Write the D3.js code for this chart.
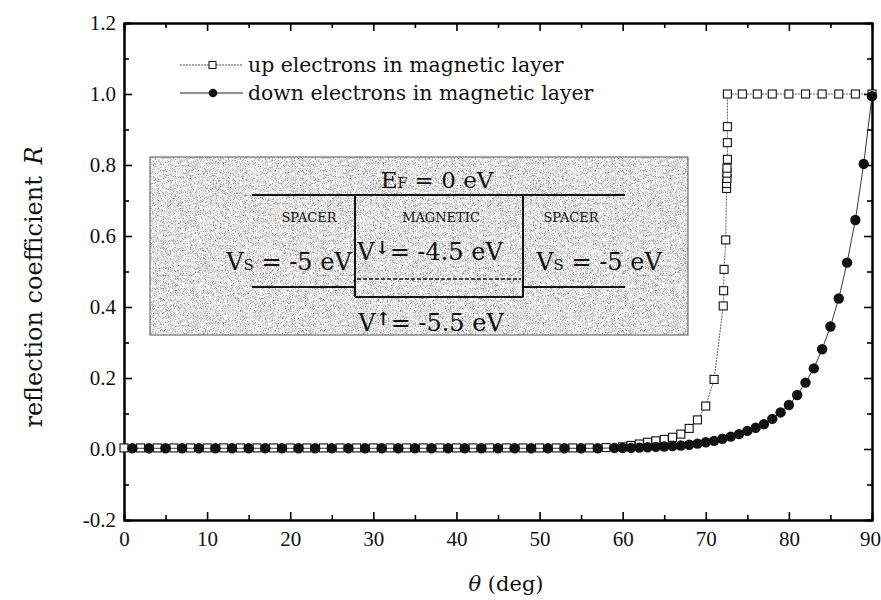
<!DOCTYPE html>
<html>
<head>
<meta charset="utf-8">
<script src="https://cdn.jsdelivr.net/npm/d3@7"></script>
<style>
  body { margin: 0; background: #fff; }
  svg text { fill: #111; }
</style>
</head>
<body>
<div class="view"></div>
<script>
// reflection coefficient vs incidence angle
const upTheta = [0, 2, 4, 6, 8, 10, 12, 14, 16, 18, 20, 22, 24, 26, 28, 30, 32, 34, 36, 38,
  40, 42, 44, 46, 48, 50, 52, 54, 56, 58,
  60, 61, 62, 63, 64, 65, 66, 67, 68, 69, 70, 71,
  72.1, 72.15, 72.2, 72.4, 72.5, 72.5, 72.55, 72.55, 72.55, 72.6, 72.6, 72.6, 72.6,
  74.4, 76.2, 78, 80, 82, 84, 86, 88, 90]
const upR = [0.003, 0.003, 0.003, 0.003, 0.003, 0.003, 0.003, 0.003, 0.003, 0.003,
  0.003, 0.003, 0.003, 0.003, 0.003, 0.003, 0.003, 0.003, 0.003, 0.003,
  0.003, 0.003, 0.003, 0.003, 0.003, 0.003, 0.003, 0.003, 0.003, 0.004,
  0.006, 0.010, 0.014, 0.019, 0.023, 0.027, 0.033, 0.042, 0.058, 0.082, 0.121, 0.196,
  0.403, 0.446, 0.506, 0.589, 0.734, 0.748, 0.762, 0.777, 0.791, 0.816, 0.863, 0.908, 1.0,
  1.0, 1.0, 1.0, 1.0, 1.0, 1.0, 1.0, 1.0, 1.0]

const downTheta = [1, 3, 5, 7, 9, 11, 13, 15, 17, 19, 21, 23, 25, 27, 29, 31, 33, 35, 37, 39,
  41, 43, 45, 47, 49, 51, 53, 55, 57, 59,
  60, 61, 62, 63, 64, 65, 66, 67, 68, 69, 70, 71, 72, 73, 74, 75, 76, 77, 78, 79,
  80, 81, 82, 83, 84, 85, 86, 87, 88, 89, 90]
const downR = [0.002, 0.002, 0.002, 0.002, 0.002, 0.002, 0.002, 0.002, 0.002, 0.002,
  0.002, 0.002, 0.002, 0.002, 0.002, 0.002, 0.002, 0.002, 0.002, 0.002,
  0.002, 0.002, 0.002, 0.002, 0.002, 0.002, 0.002, 0.002, 0.002, 0.003,
  0.003, 0.003, 0.004, 0.005, 0.006, 0.007, 0.008, 0.010, 0.012, 0.015,
  0.019, 0.023, 0.029, 0.035, 0.042, 0.051, 0.060, 0.070, 0.085, 0.103,
  0.124, 0.152, 0.187, 0.227, 0.281, 0.345, 0.424, 0.525, 0.645, 0.803, 0.994]

const xTicks = [0, 10, 20, 30, 40, 50, 60, 70, 80, 90]
const xMinor = [5, 15, 25, 35, 45, 55, 65, 75, 85]
const yTicks = [-0.2, 0.0, 0.2, 0.4, 0.6, 0.8, 1.0, 1.2]
const yMinor = [-0.1, 0.1, 0.3, 0.5, 0.7, 0.9, 1.1]
const seriesNames = ['up electrons in magnetic layer', 'down electrons in magnetic layer']

const w = 881
const h = 600
const padL = 124, padR = 872, padT = 23, padB = 520
const serif = '"DejaVu Serif", serif'
const numFont = '"Liberation Serif", "Times New Roman", serif'

const svg = d3.select('.view')
  .append('svg')
  .attr('width', w)
  .attr('height', h)

const xScale = d3.scaleLinear().domain([0, 90]).range([padL, padR])
const yScale = d3.scaleLinear().domain([-0.2, 1.2]).range([padB, padT])

// grain filter for the inset background
const defs = svg.append('defs')
const grain = defs.append('filter').attr('id', 'grain').attr('x', 0).attr('y', 0).attr('width', 1).attr('height', 1)
grain.append('feTurbulence').attr('type', 'fractalNoise').attr('baseFrequency', 1.6).attr('numOctaves', 1).attr('seed', 4)
grain.append('feColorMatrix').attr('type', 'matrix')
  .attr('values', '2.2 0 0 0 -0.3  2.2 0 0 0 -0.3  2.2 0 0 0 -0.3  0 0 0 0 1')
grain.append('feComposite').attr('in2', 'SourceGraphic').attr('operator', 'in')

// axes (ticks pointing inward, on all four sides)
function styleAxis(g) {
  g.select('.domain').attr('stroke', '#000').attr('stroke-width', 2)
  g.selectAll('.tick line').attr('stroke', '#000').attr('stroke-width', 1.6)
  g.selectAll('text').attr('font-family', numFont).attr('font-size', 21).attr('fill', '#111')
}

svg.append('g')
  .attr('transform', 'translate(0,' + padB + ')')
  .call(d3.axisBottom(xScale).tickValues(xTicks).tickSize(-8).tickSizeOuter(0).tickPadding(7).tickFormat(d3.format('d')))
  .call(styleAxis)
  .selectAll('text')
  .attr('dy', '0.9em')
  .attr('dx', (d) => d == 90 ? -2 : 0)
svg.append('g')
  .attr('transform', 'translate(0,' + padB + ')')
  .call(d3.axisBottom(xScale).tickValues(xMinor).tickSize(-5).tickFormat(''))
  .call(styleAxis)
svg.append('g')
  .attr('transform', 'translate(0,' + padT + ')')
  .call(d3.axisTop(xScale).tickValues(xTicks).tickSize(-8).tickSizeOuter(0).tickFormat(''))
  .call(styleAxis)
svg.append('g')
  .attr('transform', 'translate(0,' + padT + ')')
  .call(d3.axisTop(xScale).tickValues(xMinor).tickSize(-5).tickFormat(''))
  .call(styleAxis)

svg.append('g')
  .attr('transform', 'translate(' + padL + ',0)')
  .call(d3.axisLeft(yScale).tickValues(yTicks).tickSize(-8).tickSizeOuter(0).tickPadding(8).tickFormat((d) => d.toFixed(1)))
  .call(styleAxis)
svg.append('g')
  .attr('transform', 'translate(' + padL + ',0)')
  .call(d3.axisLeft(yScale).tickValues(yMinor).tickSize(-5).tickFormat(''))
  .call(styleAxis)
svg.append('g')
  .attr('transform', 'translate(' + padR + ',0)')
  .call(d3.axisRight(yScale).tickValues(yTicks).tickSize(-8).tickSizeOuter(0).tickFormat(''))
  .call(styleAxis)
svg.append('g')
  .attr('transform', 'translate(' + padR + ',0)')
  .call(d3.axisRight(yScale).tickValues(yMinor).tickSize(-5).tickFormat(''))
  .call(styleAxis)

// axis titles
svg.append('text')
  .attr('transform', 'translate(42,' + 287 + ') rotate(-90)')
  .attr('text-anchor', 'middle')
  .attr('font-family', serif)
  .attr('font-size', 24)
  .text('reflection coefficient ')
  .append('tspan').attr('font-style', 'italic').attr('dx', 4).text('R')

const xt = svg.append('text')
  .attr('x', 506)
  .attr('y', 591)
  .attr('text-anchor', 'middle')
  .attr('font-family', serif)
  .attr('font-size', 21)
xt.append('tspan').attr('font-style', 'italic').text('θ')
xt.append('tspan').text(' (deg)')

// inset: band diagram
const inset = svg.append('g').attr('class', 'inset')
inset.append('rect')
  .attr('x', 150).attr('y', 157).attr('width', 538).attr('height', 178)
  .attr('fill', '#cccccc')
  .attr('filter', 'url(#grain)')
inset.append('rect')
  .attr('x', 150).attr('y', 157).attr('width', 538).attr('height', 178)
  .attr('fill', 'none').attr('stroke', '#555').attr('stroke-width', 1)

const lvl = [
  [252, 195, 625, 195],
  [252, 287, 355, 287],
  [523, 287, 625, 287],
  [355, 297, 523, 297],
  [355, 195, 355, 297],
  [523, 195, 523, 297]
]
inset.selectAll('line.lvl')
  .data(lvl)
  .enter()
  .append('line')
  .attr('class', 'lvl')
  .attr('x1', (d) => d[0]).attr('y1', (d) => d[1])
  .attr('x2', (d) => d[2]).attr('y2', (d) => d[3])
  .attr('stroke', '#111').attr('stroke-width', 2)
inset.append('line')
  .attr('x1', 357).attr('x2', 521).attr('y1', 279).attr('y2', 279)
  .attr('stroke', '#111').attr('stroke-width', 1.4).attr('stroke-dasharray', '4,2')

function subText(x, y, size, main, sub, rest) {
  const t = inset.append('text')
    .attr('x', x).attr('y', y)
    .attr('text-anchor', 'middle')
    .attr('font-family', serif)
    .attr('font-size', size)
  t.append('tspan').text(main)
  t.append('tspan').attr('font-size', size * 0.62).text(sub)
  t.append('tspan').text(rest)
  return t
}
subText(437, 188, 23, 'E', 'F', ' = 0 eV')
subText(289, 270, 24, 'V', 'S', ' = -5 eV')
subText(599, 270, 24, 'V', 'S', ' = -5 eV')

function spinText(x, y, arrow, rest) {
  const t = inset.append('text')
    .attr('x', x).attr('y', y)
    .attr('text-anchor', 'middle')
    .attr('font-family', serif)
    .attr('font-size', 24)
  t.append('tspan').text('V')
  t.append('tspan').attr('font-size', 18).attr('font-weight', 'bold').attr('dy', -6).text(arrow)
  t.append('tspan').attr('dy', 6).text(rest)
}
spinText(430, 260, '↓', '= -4.5 eV')
spinText(431, 331, '↑', '= -5.5 eV')

const smallLabels = [['SPACER', 309], ['MAGNETIC', 441], ['SPACER', 571]]
inset.selectAll('text.region')
  .data(smallLabels)
  .enter()
  .append('text')
  .attr('class', 'region')
  .attr('x', (d) => d[1]).attr('y', 222)
  .attr('text-anchor', 'middle')
  .attr('font-family', serif)
  .attr('font-size', 13)
  .text((d) => d[0])

// data
const upData = upTheta.map((t, i) => [t, upR[i]])
const downData = downTheta.map((t, i) => [t, downR[i]])
const line = d3.line().x((d) => xScale(d[0])).y((d) => yScale(d[1]))

svg.append('path')
  .datum(upData)
  .attr('d', line)
  .attr('fill', 'none')
  .attr('stroke', '#333')
  .attr('stroke-width', 0.8)
  .attr('stroke-dasharray', '2,1')

svg.selectAll('rect.up')
  .data(upData)
  .enter()
  .append('rect')
  .attr('class', 'up')
  .attr('x', (d) => xScale(d[0]) - 4)
  .attr('y', (d) => yScale(d[1]) - 4)
  .attr('width', 8)
  .attr('height', 8)
  .attr('fill', '#fff')
  .attr('stroke', '#111')
  .attr('stroke-width', 1.1)

svg.append('path')
  .datum(downData)
  .attr('d', line)
  .attr('fill', 'none')
  .attr('stroke', '#222')
  .attr('stroke-width', 0.9)

svg.selectAll('circle.down')
  .data(downData)
  .enter()
  .append('circle')
  .attr('class', 'down')
  .attr('cx', (d) => xScale(d[0]))
  .attr('cy', (d) => yScale(d[1]))
  .attr('r', 5.2)
  .attr('fill', '#111')

// legend
const legend = svg.append('g').attr('class', 'legend')
const rows = legend.selectAll('g')
  .data(seriesNames)
  .enter()
  .append('g')
  .attr('transform', (d, i) => 'translate(180,' + (65 + i * 28) + ')')
rows.append('line')
  .attr('x1', 0).attr('x2', 63)
  .attr('stroke', '#222')
  .attr('stroke-width', (d, i) => i == 0 ? 0.8 : 1)
  .attr('stroke-dasharray', (d, i) => i == 0 ? '2,1' : null)
rows.filter((d, i) => i == 0).append('rect')
  .attr('x', 29).attr('y', -3.5).attr('width', 7).attr('height', 7)
  .attr('fill', '#fff').attr('stroke', '#111').attr('stroke-width', 1)
rows.filter((d, i) => i == 1).append('circle')
  .attr('cx', 33).attr('r', 4.3).attr('fill', '#111')
rows.append('text')
  .attr('x', 68).attr('y', 7)
  .attr('font-family', serif)
  .attr('font-size', 20.4)
  .text((d) => d)
</script>
</body>
</html>
